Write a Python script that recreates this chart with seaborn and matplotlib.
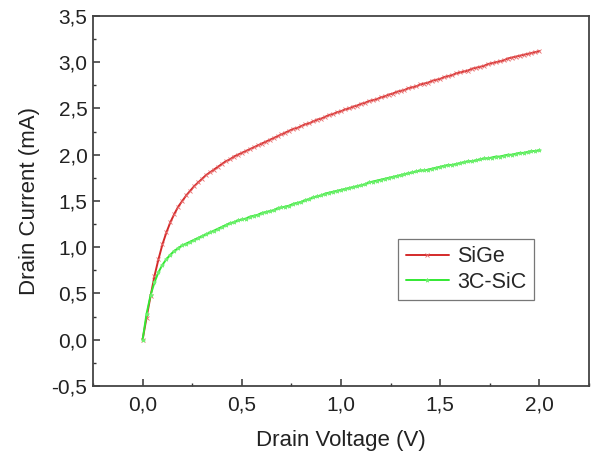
import numpy as np
import pandas as pd
import matplotlib
matplotlib.use("Agg")
import matplotlib.pyplot as plt
from matplotlib.ticker import MultipleLocator, FuncFormatter
import seaborn as sns

voltage = np.round(np.arange(0, 2.0001, 0.02), 2)

sige = [0.00, 0.24, 0.47, 0.69, 0.87, 1.03, 1.16, 1.27, 1.36, 1.44,
        1.50, 1.56, 1.61, 1.66, 1.70, 1.74, 1.78, 1.81, 1.84, 1.87,
        1.90, 1.93, 1.95, 1.98, 2.00, 2.02, 2.04, 2.06, 2.08, 2.10,
        2.12, 2.14, 2.16, 2.18, 2.20, 2.22, 2.24, 2.26, 2.28, 2.29,
        2.31, 2.33, 2.34, 2.36, 2.38, 2.39, 2.41, 2.43, 2.44, 2.46,
        2.47, 2.49, 2.50, 2.52, 2.53, 2.55, 2.56, 2.58, 2.59, 2.60,
        2.62, 2.63, 2.65, 2.66, 2.68, 2.69, 2.70, 2.72, 2.73, 2.74,
        2.76, 2.77, 2.78, 2.80, 2.81, 2.82, 2.84, 2.85, 2.86, 2.88,
        2.89, 2.90, 2.91, 2.93, 2.94, 2.95, 2.96, 2.98, 2.99, 3.00,
        3.01, 3.02, 3.04, 3.05, 3.06, 3.07, 3.08, 3.09, 3.10, 3.11,
        3.12]

sic = [0.00, 0.28, 0.48, 0.62, 0.73, 0.81, 0.87, 0.92, 0.96, 0.99,
       1.02, 1.04, 1.06, 1.08, 1.10, 1.12, 1.14, 1.16, 1.18, 1.20,
       1.22, 1.24, 1.26, 1.27, 1.29, 1.30, 1.31, 1.33, 1.34, 1.35,
       1.37, 1.38, 1.39, 1.40, 1.42, 1.43, 1.44, 1.45, 1.47, 1.48,
       1.49, 1.51, 1.52, 1.54, 1.55, 1.56, 1.58, 1.59, 1.60, 1.61,
       1.62, 1.63, 1.64, 1.65, 1.66, 1.67, 1.68, 1.70, 1.71, 1.72,
       1.73, 1.74, 1.75, 1.76, 1.77, 1.78, 1.79, 1.80, 1.81, 1.82,
       1.83, 1.83, 1.84, 1.85, 1.86, 1.87, 1.88, 1.89, 1.89, 1.90,
       1.91, 1.92, 1.93, 1.93, 1.94, 1.95, 1.96, 1.96, 1.97, 1.98,
       1.98, 1.99, 2.00, 2.00, 2.01, 2.02, 2.02, 2.03, 2.04, 2.04,
       2.05]

series_names = ["SiGe", "3C-SiC"]
series_values = [sige, sic]
colors = {"SiGe": "#d42a2a", "3C-SiC": "#33e833"}
marker_colors = {"SiGe": "#e86a6a", "3C-SiC": "#6ff06f"}
markers = {"SiGe": "x", "3C-SiC": "*"}

sns.set_style("white")
plt.rcParams["font.family"] = ["Liberation Sans", "DejaVu Sans"]

fig = plt.figure(figsize=(5.93, 4.54), dpi=100)
ax = fig.add_axes([0.1568, 0.1498, 0.8365, 0.815])

for name, vals in zip(series_names, series_values):
    df = pd.DataFrame({"Drain Voltage (V)": voltage, "Drain Current (mA)": vals})
    sns.lineplot(data=df, x="Drain Voltage (V)", y="Drain Current (mA)",
                 color=colors[name], marker=markers[name], markersize=3,
                 markeredgewidth=0.6, markeredgecolor=marker_colors[name],
                 markerfacecolor=marker_colors[name],
                 linewidth=1.4, ax=ax, label=name)

ax.set_xlim(-0.25, 2.25)
ax.set_ylim(-0.5, 3.5)
ax.xaxis.set_major_locator(MultipleLocator(0.5))
ax.xaxis.set_minor_locator(MultipleLocator(0.25))
ax.yaxis.set_major_locator(MultipleLocator(0.5))
ax.yaxis.set_minor_locator(MultipleLocator(0.25))
fmt = FuncFormatter(lambda v, p: ("%.1f" % v).replace(".", ","))
ax.xaxis.set_major_formatter(fmt)
ax.yaxis.set_major_formatter(fmt)

ax.tick_params(axis="both", which="major", direction="in", length=5, width=1.1,
               color="#333333", labelsize=15, labelcolor="#222222")
ax.tick_params(axis="both", which="minor", direction="in", length=2.5, width=1.0,
               color="#333333")
ax.tick_params(axis="x", which="both", bottom=True, top=False, pad=7)
ax.tick_params(axis="y", which="both", left=True, right=False, pad=4)

for s in ax.spines.values():
    s.set_visible(True)
    s.set_color("#444444")
    s.set_linewidth(1.3)

ax.set_xlabel("Drain Voltage (V)", fontsize=16, color="#222222", labelpad=11)
ax.set_ylabel("Drain Current (mA)", fontsize=16, color="#222222", labelpad=8)

handles, labels = ax.get_legend_handles_labels()
leg = ax.legend(handles, labels, loc="lower right", bbox_to_anchor=(0.889, 0.232),
                fontsize=15.5, frameon=True, fancybox=False, shadow=False,
                handlelength=2.0, handletextpad=0.4, borderpad=0.35,
                labelspacing=0.2, borderaxespad=0)
leg.get_frame().set_edgecolor("#555555")
leg.get_frame().set_linewidth(0.9)

fig.savefig("out.png", dpi=100)
